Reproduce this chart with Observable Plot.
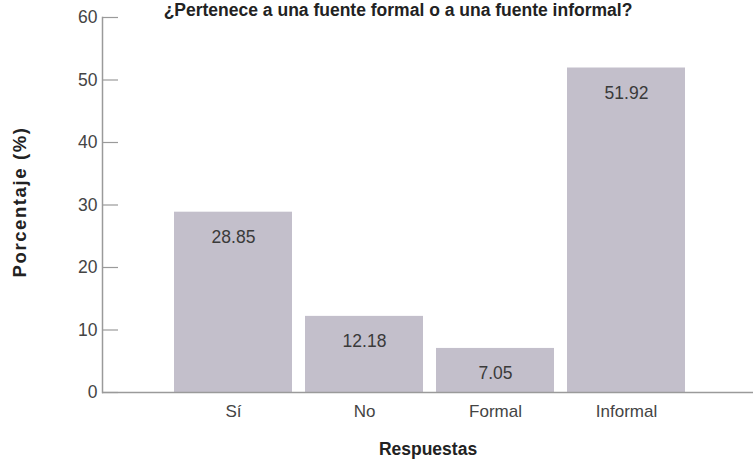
<!DOCTYPE html>
<html>
<head>
<meta charset="utf-8">
<script src="https://cdn.jsdelivr.net/npm/d3@7"></script>
<script src="https://cdn.jsdelivr.net/npm/@observablehq/plot@0.6"></script>
<style>
  html, body { margin: 0; padding: 0; background: #fff; }
  #chart svg { display: block; }
</style>
</head>
<body>
<div id="chart"></div>
<script>
// Survey answers and their share of responses (%)
const categories = ["Sí", "No", "Formal", "Informal"];
const percentages = [28.85, 12.18, 7.05, 51.92];
const yTicks = [0, 10, 20, 30, 40, 50, 60];

const title = "¿Pertenece a una fuente formal o a una fuente informal?";
const xLabel = "Respuestas";
const yLabel = "Porcentaje (%)";

const rows = categories.map((c, i) => ({category: c, value: percentages[i]}));

const W = 753, H = 460;
const font = "'Liberation Sans', Arial, Helvetica, sans-serif";
const barColor = "#c3bfcb";
const axisColor = "#9a9a9a";

const plot = Plot.plot({
  width: W,
  height: H,
  marginLeft: 102,
  marginRight: 0,
  marginTop: 17,
  marginBottom: 68,
  style: {fontFamily: font, fontSize: "17px", color: "#444", background: "#fff"},
  x: {domain: categories, range: [174, 685], paddingInner: 0.1, paddingOuter: 0, label: null},
  y: {domain: [0, 60], label: null},
  marks: [
    Plot.barY(rows, {x: "category", y: "value", fill: barColor}),
    // inward tick marks on the value axis
    Plot.axisY({ticks: yTicks, tickSize: -16, tickFormat: () => "", stroke: axisColor, strokeWidth: 1.2, label: null}),
    Plot.axisY({ticks: yTicks, tickSize: 0, tickPadding: 5, fill: "#444", fontSize: 17.5, label: null}),
    Plot.axisX({tickSize: 0, tickPadding: 12, fill: "#444", fontSize: 17, label: null}),
    Plot.frame({anchor: "left", stroke: axisColor, strokeWidth: 1.5}),
    Plot.ruleY([0], {stroke: axisColor, strokeWidth: 1.5}),
    Plot.text(rows, {
      x: "category", y: "value", text: d => d3.format(".2f")(d.value),
      dy: 25, lineAnchor: "middle", fill: "#3a3a3a", fontSize: 17.5
    })
  ]
});

const svg = d3.select(plot);
svg.append("text")
  .attr("x", 398).attr("y", 16)
  .attr("text-anchor", "middle")
  .attr("font-family", font).attr("font-weight", "bold").attr("font-size", 17.5)
  .attr("fill", "#222")
  .text(title);
svg.append("text")
  .attr("x", 428).attr("y", 455)
  .attr("text-anchor", "middle")
  .attr("font-family", font).attr("font-weight", "bold").attr("font-size", 17.5)
  .attr("fill", "#222")
  .text(xLabel);
svg.append("text")
  .attr("transform", "translate(26,202) rotate(-90)")
  .attr("text-anchor", "middle")
  .attr("font-family", font).attr("font-weight", "bold").attr("font-size", 18.5)
  .attr("letter-spacing", 1.6)
  .attr("fill", "#222")
  .text(yLabel);

document.getElementById("chart").appendChild(plot);
</script>
</body>
</html>
